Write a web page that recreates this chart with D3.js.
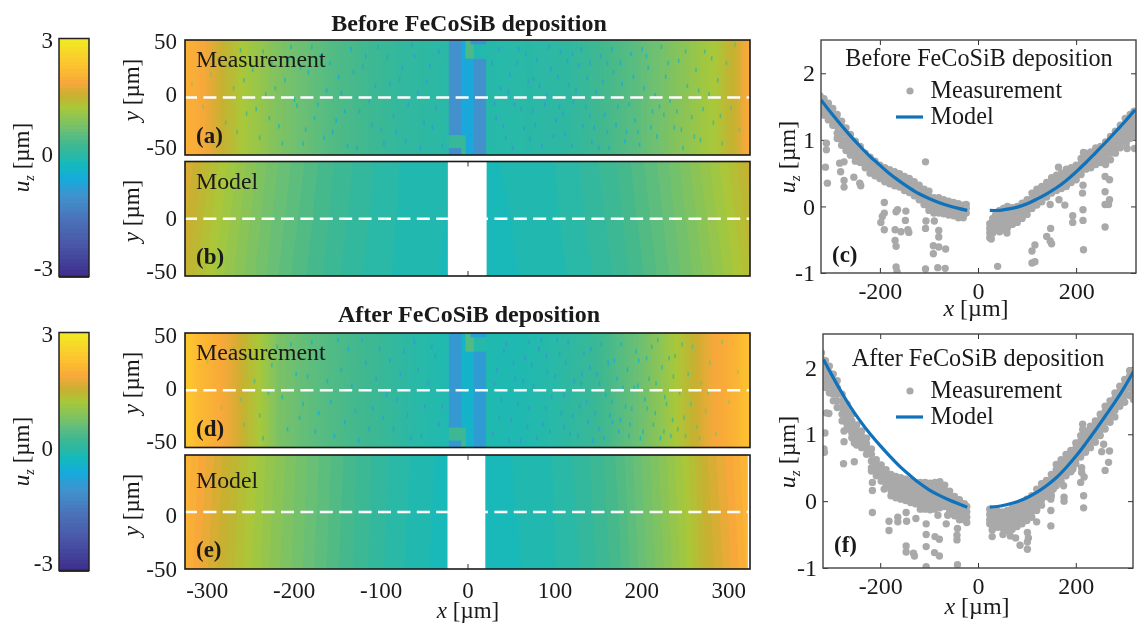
<!DOCTYPE html>
<html><head><meta charset="utf-8">
<script src="https://cdn.jsdelivr.net/npm/d3@7/dist/d3.min.js"></script>
<style>
html,body{margin:0;padding:0;background:#fff}
svg{display:block;filter:blur(0.55px)}
text{font-family:"Liberation Serif",serif;fill:#1a1a1a}
</style></head><body><svg id="c" width="1143" height="625"></svg>
<script>
// colour map
const cmapU=[-3,-2.15,-1.58,-1,-0.5,-0.15,0.35,0.76,1.27,1.6,1.9,2.3,3];
const cmapC=["#3d2c8c","#4a58a8","#4a70b8","#4290cc","#16abdc","#14b9bc","#40b890","#70c070","#a8c83a","#c8b030","#f8a83a","#fdc030","#f2ea24"];
const xTicks=[-300,-200,-100,0,100,200,300];
const yTicksHeat=[-50,0,50];
const xTicksLine=[-200,0,200];
const yTicksLine=[-1,0,1,2];
// measured surface profiles u_z(x)
const measX=[-325,-310,-293,-261,-212,-155,-78,-25,22,115,190,248,286,310,325];
const measA=[2.05,1.95,1.75,1.3,.85,.5,.2,.1,.05,.15,.55,1.0,1.3,1.65,2.0];
const measDX=[-325,-310,-285,-262,-242,-216,-180,-140,-100,-60,-30,30,60,100,150,200,235,255,280,300,325];
const measD=[2.45,2.2,1.95,1.65,1.3,.85,.6,.42,.28,.1,0,-.02,-.02,.08,.3,.75,1.2,1.5,1.85,2.0,2.35];
// device structure in the measurements: x0,x1,y0,y1
const devRects=[[-21.5,-7,-32.6,50],[-21.5,-2,-44,-32.6],[-21.5,-7,-50,-44],[-7,-2,-50,-44],[-7,7.3,-32.6,34],[-2,7.3,-50,-32.6],[-7,-2.3,34,50],[-2.3,7.3,34,50],[7.3,21,-50,34],[7.3,21,34,46.5],[3.5,21,46.5,50]];
const devUA=[-1,.25,-1.05,.3,-.55,-.55,-.5,.45,-1,0,-.9];
const devUD=[-.85,.3,-.85,.35,-.3,-.3,-.25,.5,-.8,.05,-.7];
// low spots in the measurements [x,y]
const specksA=[[-318,12],[-305,-8],[-296,20],[-288,33],[-279,-22],[-270,8],[-262,41],[-255,-14],[-248,24],[-240,-35],[-233,3],[-226,30],[-218,-25],[-211,15],[-204,44],[-197,-7],[-190,-40],[-184,22],[-177,-18],[-170,36],[-163,6],[-156,-30],[-149,18],[-142,-12],[-135,42],[-128,-44],[-121,27],[-114,-3],[-107,10],[-100,-28],[-93,35],[-86,-16],[-79,16],[-72,-38],[-65,46],[-58,4],[-51,-22],[-44,28],[-37,-9],[-30,-42],[27,30],[32,-18],[37,8],[43,-35],[48,20],[53,-6],[58,42],[64,-27],[69,14],[74,-12],[79,33],[85,-42],[90,2],[95,25],[101,-20],[106,40],[111,-32],[116,11],[121,-4],[127,28],[132,-25],[137,17],[142,-39],[147,5],[152,36],[157,-15],[162,-44],[167,22],[172,-8],[177,12],[182,-30],[187,38],[192,-20],[197,-41],[202,8],[207,26],[212,-12],[217,-34],[222,44],[227,18],[232,-3],[237,-26],[242,32],[247,-44],[252,10],[257,-17],[262,24],[267,-37],[272,40],[277,3],[282,-22],[287,15],[292,-40],[297,30],[302,-9],[307,46],[312,-28],[225,-15],[180,-38],[140,-16],[105,-8],[75,16],[205,36],[160,30],[120,38],[245,-28],[265,6],[215,2],
[-275,28],[-266,-30],[-258,15],[-244,-10],[-236,40],[-229,-18],[-222,8],[-214,-40],[-207,33],[-200,-2],[-193,26],[-187,-28],[-180,44],[-173,-6],[-166,-35],[-159,30],[-152,-20],[-146,4],[-139,-42],[-132,22],[-125,-12],[-118,36],[-111,-24],[-104,44],[-97,-40],[-90,12],[-83,-30],[-76,26],[-69,-6],[-62,36],[-55,-44],[-48,14],[-41,-26],[-34,40],[30,-5],[35,42],[40,-25],[46,5],[51,-44],[56,30],[61,-10],[66,38],[71,-36],[77,-24],[82,10],[88,-6],[93,44],[98,-34],[103,18],[109,-14],[114,32],[119,-42],[124,6],[130,42],[135,-8],[140,30],[145,-26],[150,-44],[155,14],[160,-30],[165,42],[170,-24],[175,30],[185,-6],[190,18],[195,-30],[200,42],[210,-26],[220,-8],[230,30],[240,-12],[250,40],[260,-34],[270,-10],[280,34],[290,-16]];
const specksD=[[-300,25],[-284,-15],[-270,36],[-258,-30],[-246,8],[-236,-42],[-226,22],[-214,-6],[-204,40],[-194,-24],[-185,12],[-176,-36],[-168,30],[-158,-10],[-150,44],[-142,-28],[-134,4],[-126,-44],[-118,24],[-110,-16],[-102,36],[-94,-4],[-86,-34],[-78,14],[-70,-22],[-62,42],[-54,-40],[-46,6],[-38,30],[-30,-14],[28,-38],[33,18],[38,-8],[44,40],[49,-26],[54,10],[60,-44],[65,28],[70,-16],[75,4],[81,36],[86,-30],[91,16],[96,-6],[102,44],[107,-20],[112,24],[117,-38],[122,8],[128,-14],[133,32],[138,-28],[143,-44],[148,14],[153,40],[158,-4],[163,-22],[168,26],[173,-36],[178,2],[183,18],[188,-16],[193,34],[198,-42],[203,-8],[208,10],[213,-30],[218,44],[223,20],[228,-12],[233,-40],[238,30],[243,-2],[248,-24],[253,14],[258,38],[263,-32],[268,6],[273,-18],[278,24],[285,-38],[292,42],[300,-10],[310,16],[150,-34],[175,-26],[195,4],[215,-20],[235,-26],[130,6],[110,-32],[90,30],[70,42],[250,-40],[205,28],[185,-40],[165,-10],[225,-36],[140,20],
[-262,-8],[-252,30],[-240,-22],[-230,-2],[-220,38],[-208,-34],[-198,14],[-190,-12],[-180,42],[-172,-20],[-162,8],[-154,-40],[-146,18],[-138,36],[-130,-18],[-122,44],[-114,-34],[-106,10],[-98,-24],[-90,26],[-82,-8],[-74,34],[-66,-42],[-58,18],[-50,-14],[-42,38],[-34,-30],[30,6],[36,-24],[41,34],[47,-44],[52,24],[57,-12],[63,8],[68,-32],[73,22],[79,-42],[84,44],[89,-16],[94,-36],[100,12],[105,32],[110,-4],[115,42],[120,-22],[126,-40],[131,14],[136,-10],[141,36],[146,-20],[151,6],[156,-42],[161,24],[166,-28],[171,10],[176,40],[181,-14],[186,-30],[191,2],[196,26],[201,-36],[206,-16],[211,38],[216,6],[221,-42],[226,-6],[231,28],[236,12],[241,-34],[246,40],[256,-12],[266,-42],[276,-2]];
// model surface sampled on a grid (rows y=50,0,-50)
const gridX=[-325,-300,-275,-250,-225,-200,-175,-150,-125,-100,-75,-50,-25,0,25,50,75,100,125,150,175,200,225,250,275,300,325];
const gridY=[50,0,-50];
const modelBTop=[1.75,1.49,1.24,1.01,.80,.63,.47,.33,.22,.12,.04,-.01,-.04,-.07,-.06,-.04,0,.05,.14,.25,.37,.53,.70,.90,1.12,1.35,1.61];
const modelBMid=[1.66,1.41,1.17,.95,.75,.58,.43,.30,.19,.10,.03,-.02,-.05,-.07,-.07,-.05,-.02,.03,.11,.21,.33,.48,.65,.84,1.05,1.27,1.52];
const modelBBot=[1.57,1.33,1.10,.89,.70,.53,.39,.27,.16,.08,.02,-.03,-.06,-.07,-.08,-.06,-.03,.01,.08,.17,.29,.43,.60,.78,.98,1.19,1.43];
const modelETop=[2.14,1.84,1.58,1.33,1.08,.87,.68,.5,.33,.19,.08,-.01,-.09,-.12,-.09,-.05,-.01,.06,.17,.3,.49,.75,1.0,1.29,1.64,1.89,2.19];
const modelEMid=[2.1,1.8,1.55,1.3,1.05,.85,.66,.48,.32,.18,.07,-.02,-.1,-.12,-.1,-.06,-.02,.05,.15,.28,.46,.72,.97,1.25,1.6,1.85,2.15];
const modelEBot=[2.06,1.76,1.52,1.27,1.02,.83,.64,.46,.31,.17,.06,-.03,-.11,-.12,-.11,-.07,-.03,.04,.13,.26,.43,.69,.94,1.21,1.56,1.81,2.11];
const gapB=[[-22.6,22]];
const gapE=[[-23,20.5],[322.5,325]];
const bandLevels=d3.range(-.25,2.8,.1);
// centre-line scatter: columns [x, y, y, ...]
const bandC=[[-322,1.66,1.58,1.5,1.42],[-314,1.62,1.53,1.45,1.37],[-305,1.55,1.47,1.38,1.3],[-296,1.47,1.39,1.3,1.22],[-287,1.38,1.3,1.2,1.1,1.02],[-278,1.28,1.2,1.1,1,.92],[-269,1.18,1.1,1,.92,.84],[-260,1.08,1,.92,.84,.77],[-250,.98,.9,.82,.74,.68],[-240,.9,.82,.74,.66],[-230,.8,.73,.65,.58],[-220,.74,.66,.58,.5],[-210,.68,.6,.53,.46],[-200,.62,.55,.48,.42],[-190,.58,.51,.44,.37],[-180,.55,.48,.41,.34],[-170,.52,.45,.38,.31],[-160,.49,.42,.35,.29],[-150,.45,.38,.31,.24],[-140,.42,.35,.28,.21],[-130,.37,.3,.23,.16],[-120,.32,.25,.17,.1],[-110,.26,.19,.11,.03],[-100,.23,.15,.07,-.01,-.06],[-90,.13,.06,-.02,-.1],[-80,.13,.05,-.03,-.1],[-70,.1,.03,-.04,-.11],[-60,.08,.01,-.06,-.13],[-50,.06,0,-.07,-.14],[-40,.04,-.03,-.1,-.17],[-30,.02,-.04,-.11,-.17],[-24,.03,-.03,-.1],
[24,-.26,-.33,-.4,-.47],[30,-.18,-.25,-.32,-.4],[36,-.12,-.2,-.28,-.36],[44,-.06,-.14,-.22,-.3,-.38],[52,-.03,-.11,-.19,-.27,-.35],[60,0,-.08,-.16,-.24,-.32],[70,-.02,-.1,-.18,-.27],[80,0,-.08,-.16,-.24],[90,.05,-.03,-.1,-.18],[100,.1,.03,-.05,-.12],[110,.2,.12,.04,-.03],[120,.26,.18,.1,.02],[130,.3,.23,.15,.07],[140,.36,.28,.21,.14],[150,.43,.35,.27,.2],[160,.47,.4,.32,.24],[170,.5,.42,.34,.27],[180,.56,.48,.4,.3],[190,.58,.5,.42,.36],[200,.62,.54,.46,.4],[210,.72,.64,.56,.48],[220,.8,.72,.64,.56],[230,.82,.74,.66,.58],[240,.88,.8,.72,.63],[250,.9,.82,.74,.66],[260,.97,.88,.8,.72,.63],[270,1.05,.97,.88,.8,.7],[280,1.13,1.05,.97,.88,.8],[290,1.22,1.14,1.05,.97,.88],[300,1.32,1.24,1.15,1.06,.97],[310,1.38,1.3,1.2,1.1,1.02],[318,1.43,1.35,1.25,1.15,1.05]];
const outC=[[-309,.95],[-309,.85],[-311,.59],[-307,.35],[-282,.65],[-273,.67],[-280,.52],[-273,.39],[-273,.29],[-253,.44],[-241,.35],[-239,.31],[-191,.06],[-191,-.1],[-195,-.15],[-198,-.24],[-191,-.35],[-167,-.08],[-164,-.05],[-147,-.07],[-169,-.35],[-157,-.38],[-143,-.35],[-141,-.39],[-169,-.51],[-167,-.6],[-148,-.21],[-167,-.91],[-165,-.98],[-107,.67],[-106,-.22],[-107,-.33],[-107,-.94],[-89,-.22],[-80,-.36],[-80,-.46],[-91,-.59],[-80,-.61],[-66,-.64],[-91,-.71],[-82,-.92],[-67,-.93],[40,-.9],[27,-.49],[59,-.4],[116,-.58],[110,-.67],[116,-.83],[110,-.85],[148,-.33],[140,-.45],[147,-.52],[150,-.56],[147,.03],[165,.1],[177,.02],[193,-.14],[193,-.24],[214,.32],[213,.2],[214,-.05],[214,-.21],[215,-.65],[259,.45],[268,.4],[259,.22],[259,.03],[268,.1],[266,.03],[259,-.31],[302,.95],[304,.87],[319,.87],[164,.59],[215,.81]];
const bandF=[[-320,2.22,2.13,2.04,1.95,1.86],[-312,2.1,2,1.9,1.8,1.7],[-304,2.02,1.92,1.82,1.72,1.62],[-296,1.9,1.8,1.7,1.6,1.5],[-288,1.8,1.7,1.6,1.5,1.4],[-278,1.6,1.5,1.4,1.3,1.2],[-268,1.45,1.35,1.25,1.15,1.08],[-258,1.3,1.2,1.1,1.02,.95],[-248,1.14,1.05,.97,.89,.84],[-238,1.05,.97,.89,.8],[-228,.94,.86,.78,.7],[-218,.78,.7,.6,.5,.45],[-208,.62,.54,.46,.38],[-198,.54,.46,.38,.3],[-188,.47,.39,.31,.23],[-178,.4,.32,.24,.16,.08],[-168,.37,.29,.21,.13,.05],[-158,.35,.27,.19,.11,.03],[-148,.33,.25,.17,.09,.01],[-138,.3,.22,.14,.06,-.02],[-128,.28,.2,.12,.04,-.04],[-118,.28,.2,.12,.04,-.04,-.12],[-108,.28,.2,.12,.04,-.04,-.12],[-98,.27,.19,.11,.03,-.05,-.13],[-88,.28,.2,.12,.04,-.04,-.12],[-78,.29,.21,.13,.05,-.03,-.1],[-68,.24,.16,.08,0,-.08],[-58,.15,.07,-.01,-.09,-.16],[-48,.07,0,-.08,-.16,-.22],[-38,.02,-.06,-.14,-.22,-.28],[-28,-.04,-.12,-.2,-.28],[-23,-.08,-.16,-.24,-.32],
[24,-.12,-.2,-.28,-.34],[32,-.14,-.22,-.3,-.38],[40,-.15,-.23,-.31,-.39],[50,-.16,-.24,-.32,-.4],[60,-.14,-.22,-.3,-.38,-.44],[70,-.1,-.18,-.26,-.34,-.42],[80,-.06,-.14,-.22,-.3,-.38],[90,-.02,-.1,-.18,-.26,-.34],[100,.03,-.05,-.13,-.21,-.29],[110,.08,0,-.08,-.16,-.24],[120,.18,.1,.02,-.06,-.14],[130,.26,.18,.1,.02,-.06],[140,.31,.23,.15,.07],[150,.4,.32,.24,.16,.08],[160,.55,.47,.39,.31,.23],[170,.62,.54,.46,.38,.3],[180,.7,.62,.54,.46,.38],[190,.76,.68,.6,.52,.44],[200,.87,.79,.71,.63,.56],[210,.98,.9,.82,.74,.66],[220,1.05,.97,.89,.81,.73],[230,1.12,1.04,.96,.88,.8],[240,1.2,1.12,1.04,.96,.88],[250,1.3,1.22,1.14,1.06,.98],[260,1.42,1.34,1.26,1.18,1.08],[270,1.5,1.42,1.34,1.26,1.18],[280,1.62,1.54,1.46,1.36,1.26],[290,1.72,1.64,1.56,1.48,1.42],[300,1.82,1.74,1.66,1.58,1.48],[310,1.95,1.87,1.79,1.69,1.58],[318,1.92,1.82,1.72,1.62,1.52]];
const outF=[[-313,1.02],[-315,.78],[-314,.73],[-305,1.31],[-310,1.32],[-274,1.05],[-274,.89],[-275,.56],[-253,.93],[-253,.87],[-253,.59],[-216,.28],[-216,.16],[-216,-.17],[-192,.18],[-182,-.3],[-182,-.44],[-164,-.24],[-164,-.31],[-147,-.17],[-146,-.3],[-127,-.26],[-147,-.67],[-147,-.76],[-132,-.78],[-130,-.82],[-106,-.5],[-106,-.68],[-106,-.98],[-88,-.53],[-79,-.57],[-89,-.77],[-79,-.82],[-42,-.95],[-43,-.51],[-43,-.58],[-42,-.41],[-65,-.34],[-82,-.21],[-62,-.21],[-106,-.34],[29,-.36],[29,-.43],[29,-.53],[51,-.5],[66,-.52],[77,-.55],[86,-.66],[101,-.72],[101,-.61],[101,-.47],[103,-.55],[120,-.31],[149,-.37],[149,-.14],[149,.03],[176,.06],[176,0],[154,.18],[175,.23],[194,.48],[212,.5],[212,.43],[217,.36],[210,.28],[216,-.1],[216,.08],[214,1.15],[214,1.07],[260,.46],[267,.58],[257,.85],[269,.75],[253,.74],[318,1.54]];
// model curves along the centre line
const curveCL=[[-320,1.6],[-300,1.41],[-280,1.23],[-260,1.06],[-240,.9],[-220,.75],[-200,.62],[-180,.49],[-160,.38],[-140,.28],[-120,.19],[-100,.12],[-80,.06],[-60,.01],[-40,-.03],[-22,-.06]];
const curveCR=[[24,-.06],[40,-.06],[60,-.04],[80,-.01],[100,.04],[120,.11],[140,.19],[160,.28],[180,.39],[200,.52],[220,.66],[240,.81],[260,.96],[280,1.12],[300,1.28],[320,1.45]];
const curveFL=[[-316,2.12],[-300,1.9],[-280,1.64],[-260,1.4],[-240,1.19],[-220,1],[-200,.83],[-180,.67],[-160,.52],[-140,.39],[-120,.27],[-100,.17],[-80,.09],[-60,.02],[-40,-.04],[-22,-.09]];
const curveFR=[[24,-.09],[40,-.08],[60,-.05],[80,-.01],[100,.05],[120,.13],[140,.23],[160,.35],[180,.5],[200,.67],[220,.86],[240,1.06],[260,1.27],[280,1.48],[300,1.71],[318,1.94]];

const svg=d3.select("#c");
const defs=svg.append("defs");
const color=d3.scaleLinear().domain(cmapU).range(cmapC).clamp(true);
const plain=d=>String(d);
let clipN=0;
function label(g,x,y,parts,o={}){
  const t=g.append("text").attr("x",x).attr("y",y).style("font-size",(o.size||23)+"px").attr("text-anchor",o.anchor||"middle");
  if(o.rotate) t.attr("transform",`rotate(-90 ${x} ${y})`);
  parts.forEach(p=>{const s=t.append("tspan").text(p[0]);
    if(p[1]) s.style("font-style","italic");
    if(p[2]) s.style("font-size",(o.size||23)*0.62+"px").attr("dy",5);
    if(p[3]) s.attr("dy",p[3]);});
  if(o.bold) t.style("font-weight","bold");
  return t;
}
function styleAxis(g,size){
  g.select(".domain").remove();
  g.selectAll("line").attr("stroke","#333").attr("stroke-width",1);
  g.selectAll("text").style("font-size",size+"px").style("font-family",'"Liberation Serif",serif').attr("fill","#1a1a1a");
}
function colorbar(top,bottom,lt,lm,lb){
  const y=d3.scaleLinear().domain([-3,3]).range([bottom,top]);
  const lev=d3.range(-3,3,6/64);
  const g=svg.append("g");
  g.selectAll("rect").data(lev).join("rect").attr("x",59).attr("width",30).attr("shape-rendering","crispEdges")
    .attr("y",d=>y(d+6/64)).attr("height",d=>y(d)-y(d+6/64)+1).attr("fill",d=>color(d+3/64));
  g.append("rect").attr("x",59).attr("y",top).attr("width",30).attr("height",bottom-top).attr("fill","none").attr("stroke","#222").attr("stroke-width",1.5);
  const ly=d3.scaleLinear().domain([-3,3]).range([lb,lt]);
  const ax=svg.append("g").attr("transform","translate(55,0)").call(d3.axisLeft(ly).tickValues([-3,0,3]).tickSize(0).tickPadding(2).tickFormat(plain));
  styleAxis(ax,23);
  label(svg,29,(top+bottom)/2,[["u",1],["z",1,1],[" [µm]",0,0,-5]],{rotate:1});
}
function heatFrame(box){
  const x=d3.scaleLinear().domain([-325,325]).range([185,750]);
  const y=d3.scaleLinear().domain([-50,50]).range([box.bottom,box.top]);
  const id="clip"+(clipN++);
  defs.append("clipPath").attr("id",id).append("rect").attr("x",185).attr("y",box.top).attr("width",565).attr("height",box.bottom-box.top);
  const ticks=svg.append("g").attr("transform",`translate(0,${box.bottom})`).call(d3.axisBottom(x).tickValues(xTicks).tickSize(-5).tickPadding(13).tickFormat(box.xLabels?plain:""));
  styleAxis(ticks,23);
  const t2=svg.append("g").attr("transform",`translate(0,${box.top})`).call(d3.axisTop(x).tickValues(xTicks).tickSize(-5).tickFormat(""));
  styleAxis(t2,23);
  const ly=d3.scaleLinear().domain([-50,50]).range([box.labelBottom,box.labelTop]);
  const yl=svg.append("g").attr("transform","translate(185,0)").call(d3.axisLeft(ly).tickValues(box.yLabels).tickSize(0).tickPadding(8).tickFormat(plain));
  styleAxis(yl,23);
  label(svg,box.ylabelX||139,box.ylabelY,[["y",1],[" [µm]"]],{rotate:1});
  return {x,y,g:svg.append("g").attr("clip-path",`url(#${id})`)};
}
function finishFrame(f,box,name,letter){
  const {x,y,g}=f;
  svg.append("line").attr("x1",x(-325)).attr("x2",x(325)).attr("y1",y(0)).attr("y2",y(0))
     .attr("stroke","#fff").attr("stroke-width",2.4).attr("stroke-dasharray","13 6.4").attr("stroke-dashoffset",box.dash||1);
  svg.append("rect").attr("x",185).attr("y",box.top).attr("width",565).attr("height",box.bottom-box.top).attr("fill","none").attr("stroke","#1a1a1a").attr("stroke-width",1.6);
  label(svg,196,box.top+27+(box.nameDy||0),[[name]],{anchor:"start",size:23.8});
  label(svg,196,box.bottom-12,[[letter]],{anchor:"start",size:23,bold:1});
}
function measPanel(box,px,pu,devU,specks,name,letter){
  const f=heatFrame(box);
  const prof=d3.scaleLinear().domain(px).range(pu);
  const cols=d3.range(-325,325,2.5);
  f.g.selectAll("rect.col").data(cols).join("rect").attr("class","col").attr("shape-rendering","crispEdges")
    .attr("x",d=>f.x(d)).attr("y",box.top).attr("width",f.x(2.5)-f.x(0)+1).attr("height",box.bottom-box.top)
    .attr("fill",d=>color(prof(d+1.25)));
  f.g.selectAll("rect.sp").data(specks).join("rect").attr("class","sp")
    .attr("x",d=>f.x(d[0])).attr("y",d=>f.y(d[1])-2.2).attr("width",1.6).attr("height",4.4)
    .attr("fill",d=>color(prof(d[0])-.95)).attr("opacity",.8);
  f.g.selectAll("rect.dev").data(devRects).join("rect").attr("class","dev")
    .attr("x",d=>f.x(d[0])).attr("width",d=>f.x(d[1])-f.x(d[0])+.3)
    .attr("y",d=>f.y(d[3])).attr("height",d=>f.y(d[2])-f.y(d[3])+.3)
    .attr("fill",(d,i)=>color(devU[i]));
  finishFrame(f,box,name,letter);
}
function modelPanel(box,rows,gaps,name,letter){
  const f=heatFrame(box);
  const vals=rows.flat();
  const n=gridX.length,m=gridY.length;
  const gx=d3.scaleLinear().domain([.5,n-.5]).range([gridX[0],gridX[n-1]]);
  const gy=d3.scaleLinear().domain([.5,m-.5]).range([gridY[0],gridY[m-1]]);
  const path=d3.geoPath(d3.geoTransform({point(a,b){this.stream.point(f.x(gx(a)),f.y(gy(b)));}}));
  const cs=d3.contours().size([n,m]).smooth(true).thresholds(bandLevels)(vals);
  f.g.selectAll("path").data(cs).join("path").attr("d",path).attr("fill",d=>color(d.value+.05));
  f.g.selectAll("rect").data(gaps).join("rect").attr("x",d=>f.x(d[0])).attr("width",d=>f.x(d[1])-f.x(d[0]))
    .attr("y",box.top).attr("height",box.bottom-box.top).attr("fill","#fff");
  // x ticks stay visible inside the empty gap
  svg.append("g").attr("transform",`translate(0,${box.bottom})`).call(d3.axisBottom(f.x).tickValues([0]).tickSize(-5).tickFormat("")).call(g=>styleAxis(g,23));
  svg.append("g").attr("transform",`translate(0,${box.top})`).call(d3.axisTop(f.x).tickValues([0]).tickSize(-5).tickFormat("")).call(g=>styleAxis(g,23));
  finishFrame(f,box,name,letter);
}
function linePanel(b,band,out,cl,cr){
  const x=d3.scaleLinear().domain(b.xd).range([b.left,b.right]);
  const y=d3.scaleLinear().domain([-1,2.5]).range([b.bottom,b.top]);
  const id="clip"+(clipN++);
  defs.append("clipPath").attr("id",id).append("rect").attr("x",b.left).attr("y",b.top).attr("width",b.right-b.left).attr("height",b.bottom-b.top);
  const ax=svg.append("g").attr("transform",`translate(0,${b.bottom})`).call(d3.axisBottom(x).tickValues(xTicksLine).tickSize(-5).tickPadding(9).tickFormat(plain));
  styleAxis(ax,24);
  styleAxis(svg.append("g").attr("transform",`translate(0,${b.top})`).call(d3.axisTop(x).tickValues(xTicksLine).tickSize(-5).tickFormat("")),24);
  const ay=svg.append("g").attr("transform",`translate(${b.left},0)`).call(d3.axisLeft(y).tickValues(yTicksLine).tickSize(-5).tickPadding(6).tickFormat(plain));
  styleAxis(ay,24);
  styleAxis(svg.append("g").attr("transform",`translate(${b.right},0)`).call(d3.axisRight(y).tickValues(yTicksLine).tickSize(-5).tickFormat("")),24);
  const g=svg.append("g").attr("clip-path",`url(#${id})`);
  const pts=band.flatMap(c=>c.slice(1).map(v=>[c[0],v])).concat(out);
  g.selectAll("circle").data(pts).join("circle").attr("cx",d=>x(d[0])).attr("cy",d=>y(d[1])).attr("r",3.7).attr("fill","#a9a9a9");
  const ln=d3.line().x(d=>x(d[0])).y(d=>y(d[1])).curve(d3.curveCatmullRom);
  [cl,cr].forEach(c=>g.append("path").attr("d",ln(c)).attr("fill","none").attr("stroke","#0f72ba").attr("stroke-width",3.2));
  svg.append("rect").attr("x",b.left).attr("y",b.top).attr("width",b.right-b.left).attr("height",b.bottom-b.top).attr("fill","none").attr("stroke","#444").attr("stroke-width",1.4);
  label(svg,b.titleX,b.titleY,[[b.title]],{size:24.2});
  svg.append("circle").attr("cx",910).attr("cy",b.legY).attr("r",3.6).attr("fill","#a9a9a9");
  label(svg,930.5,b.legY+7,[["Measurement"]],{anchor:"start",size:24.2});
  svg.append("line").attr("x1",896).attr("x2",923).attr("y1",b.legY+26).attr("y2",b.legY+26).attr("stroke","#0f72ba").attr("stroke-width",3.2);
  label(svg,930.5,b.legY+33,[["Model"]],{anchor:"start",size:24.2});
  label(svg,b.left+11,b.letY,[[b.letter]],{anchor:"start",size:23,bold:1});
  label(svg,b.xlabX,b.xlabY,[["x",1],[" [µm]"]],{size:24});
  label(svg,795,b.ylabY,[["u",1],["z",1,1],[" [µm]",0,0,-5]],{rotate:1,size:24});
}

colorbar(38.5,276.5,40,155,268);
colorbar(332.5,570.5,334,449,563);
label(svg,469,31,[["Before FeCoSiB deposition"]],{bold:1,size:24});
label(svg,469,322,[["After FeCoSiB deposition"]],{bold:1,size:24});

measPanel({top:40,bottom:155,labelTop:41,labelBottom:147,yLabels:yTicksHeat,ylabelY:90,dash:1},measX,measA,devUA,specksA,"Measurement","(a)");
modelPanel({top:161.5,bottom:276,labelTop:165,labelBottom:271,yLabels:[-50,0],ylabelY:211,dash:1},[modelBTop,modelBMid,modelBBot],gapB,"Model","(b)");
measPanel({top:333,bottom:447.5,labelTop:335,labelBottom:441,yLabels:yTicksHeat,ylabelY:383,dash:1},measDX,measD,devUD,specksD,"Measurement","(d)");
modelPanel({top:455,bottom:569,nameDy:6,labelTop:462,labelBottom:569,yLabels:[-50,0],ylabelY:505,dash:1,xLabels:1},[modelETop,modelEMid,modelEBot],gapE,"Model","(e)");
label(svg,468,618,[["x",1],[" [µm]"]]);

linePanel({left:821,right:1136,top:40,bottom:273,xd:[-320,322],title:"Before FeCoSiB deposition",titleX:979,titleY:66,legY:91,letter:"(c)",letY:262,xlabX:976,xlabY:315.5,ylabY:157},bandC,outC,curveCL,curveCR);
linePanel({left:823,right:1133,top:334,bottom:568,xd:[-317,317],title:"After FeCoSiB deposition",titleX:978,titleY:366,legY:391,letter:"(f)",letY:552,xlabX:977,xlabY:613.5,ylabY:452},bandF,outF,curveFL,curveFR);
</script></body></html>
